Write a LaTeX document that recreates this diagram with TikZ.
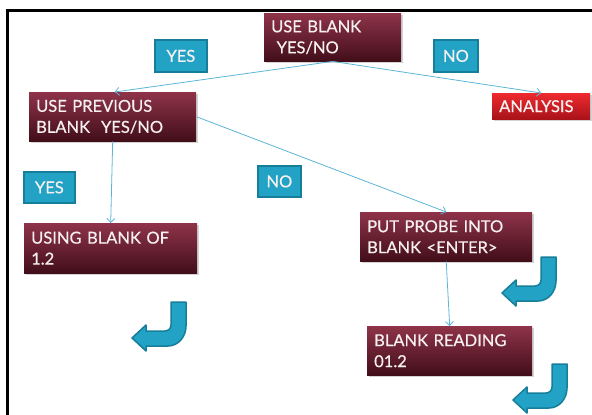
\documentclass[tikz,border=0pt]{standalone}
\usepackage{fontspec}
\newfontfamily\lato[FakeBold=0.5]{Lato}
\usetikzlibrary{arrows.meta,shadows,calc}
\definecolor{maroonT}{HTML}{8E3349}
\definecolor{maroonB}{HTML}{420E1A}
\definecolor{redT}{HTML}{EE2A2E}
\definecolor{redB}{HTML}{A9121A}
\definecolor{tealF}{HTML}{22A3C6}
\definecolor{tealD}{HTML}{177E9A}
\definecolor{linkC}{HTML}{5BB6D6}
\definecolor{txtC}{HTML}{F6F0F0}
\tikzset{
  mbox/.style={draw=none, top color=maroonT, bottom color=maroonB, text=txtC,
    font=\lato\fontsize{16.5}{21}\selectfont, align=left, inner xsep=7pt, inner ysep=0pt,
    anchor=north west, drop shadow={shadow xshift=1.5pt, shadow yshift=-2pt, opacity=0.35}},
  rbox/.style={mbox, top color=redT, bottom color=redB},
  lbl/.style={draw=tealD, line width=1.8pt, fill=tealF, text=txtC,
    font=\lato\fontsize{16.5}{21}\selectfont, inner sep=0pt, anchor=north west},
  link/.style={draw=linkC, line width=0.8pt, -{Straight Barb[length=4pt,width=8pt]}},
  retarrow/.pic={
    \draw[fill=tealF, draw=tealD, line width=1.5pt, line join=round]
      (39,0) -- (54,0) -- (54,24) .. controls (54,35) and (46,44) .. (36,44)
      -- (14,44) -- (14,49) -- (0,36) -- (14,23) -- (14,29) -- (33,29)
      .. controls (36.3,29) and (39,26.3) .. (39,23) -- cycle;
  }
}
\begin{document}
\begin{tikzpicture}[x=1pt,y=-1pt]
\useasboundingbox (0,0) rectangle (592,415);
\draw[line width=2.2pt] (7.5,416) -- (7.5,10.5) -- (593,10.5);
% boxes
\node[mbox, text width=123pt, minimum height=48pt] (ub) at (264,13) {USE BLANK\\\ YES/NO};
\node[rbox, text width=84pt, minimum height=26pt] (an) at (492,93) {ANALYSIS};
\node[mbox, text width=153pt, minimum height=49pt] (up) at (29,92) {USE PREVIOUS\\BLANK\ \ YES/NO};
\node[mbox, text width=159pt, minimum height=50pt] (us) at (24,223) {USING BLANK OF\\1.2};
\node[mbox, text width=158pt, minimum height=49pt] (pp) at (360,212) {PUT PROBE INTO\\BLANK <ENTER>};
\node[mbox, text width=151pt, minimum height=49pt] (br) at (367,326) {BLANK READING\\01.2};
% labels
\node[lbl, minimum width=52pt, minimum height=32pt] (l1) at (154,39) {YES};
\node[lbl, minimum width=44pt, minimum height=32pt] (l2) at (433,39) {NO};
\node[lbl, minimum width=51pt, minimum height=31pt] (l3) at (23,171) {YES};
\node[lbl, minimum width=43pt, minimum height=31pt] (l4) at (257,165) {NO};
% connectors
\draw[link] (ub.south) -- ($(up.north)+(2,0)$);
\draw[link] (ub.south) -- (an.north);
\draw[link] (up.east) -- (pp.north);
\draw[link] (up.south) -- (us.north);
\draw[link] (pp.south) -- (br.north);
% return icons
\pic at (132,302) {retarrow};
\pic at (502,257) {retarrow};
\pic at (513,364) {retarrow};
\end{tikzpicture}
\end{document}
